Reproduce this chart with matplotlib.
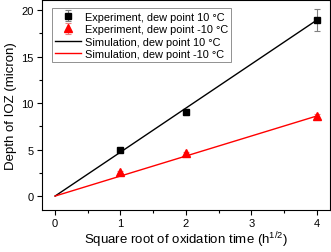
import numpy as np
import matplotlib.pyplot as plt
from matplotlib.ticker import MultipleLocator

plt.rcParams['font.family'] = ['Liberation Sans', 'DejaVu Sans']
plt.rcParams['mathtext.fontset'] = 'custom'
plt.rcParams['mathtext.rm'] = 'Liberation Sans'

# Experimental data
x_exp = [1, 2, 4]
y_exp_10 = [4.9, 9.05, 18.9]
err_10 = [0.15, 0.35, 1.2]
y_exp_m10 = [2.6, 4.6, 8.6]
err_m10 = [0.1, 0.15, 0.2]

# Simulation lines
x_sim = [0, 1, 2, 4]
y_sim_10 = [0, 4.72, 9.45, 18.9]
y_sim_m10 = [0, 2.15, 4.3, 8.6]

fig = plt.figure(figsize=(3.31, 2.53), dpi=100)
ax = fig.add_axes([0.127, 0.166, 0.869, 0.831])

ax.plot(x_sim, y_sim_10, color='black', lw=1.0, label='Simulation, dew point 10 °C', zorder=2)
ax.plot(x_sim, y_sim_m10, color='red', lw=1.0, label='Simulation, dew point -10 °C', zorder=2)
ax.errorbar(x_exp, y_exp_10, yerr=err_10, fmt='s', color='black', ms=5,
            ecolor='gray', elinewidth=0.8, capsize=2.5, capthick=0.8,
            label='Experiment, dew point 10 °C', zorder=3)
ax.errorbar(x_exp, y_exp_m10, yerr=err_m10, fmt='^', color='red', ms=6,
            ecolor='#f08080', elinewidth=0.8, capsize=2.5, capthick=0.8,
            label='Experiment, dew point -10 °C', zorder=3)

ax.set_xlim(-0.2, 4.2)
ax.set_ylim(-1.5, 21.1)
ax.xaxis.set_major_locator(MultipleLocator(1))
ax.xaxis.set_minor_locator(MultipleLocator(0.5))
ax.yaxis.set_major_locator(MultipleLocator(5))
ax.yaxis.set_minor_locator(MultipleLocator(2.5))
ax.tick_params(which='both', direction='out', top=False, right=False, labelsize=8, pad=2.5)
ax.tick_params(which='major', length=3.5, width=0.8)
ax.tick_params(which='minor', length=2, width=0.8)

ax.set_xlabel('Square root of oxidation time (h$^{\\mathregular{1/2}}$)', fontsize=9.5, labelpad=1)
ax.set_ylabel('Depth of IOZ (micron)', fontsize=9.5, labelpad=3)

handles, labels = ax.get_legend_handles_labels()
order = [2, 3, 0, 1]
leg = ax.legend([handles[i] for i in order], [labels[i] for i in order],
                loc='upper left', fontsize=7.9, fancybox=False, framealpha=1,
                edgecolor='gray', handlelength=2.4, borderpad=0.3,
                labelspacing=0.22, handletextpad=0.3, bbox_to_anchor=(0.015, 0.985))
leg.get_frame().set_linewidth(0.6)

fig.savefig('out.png', dpi=100)
